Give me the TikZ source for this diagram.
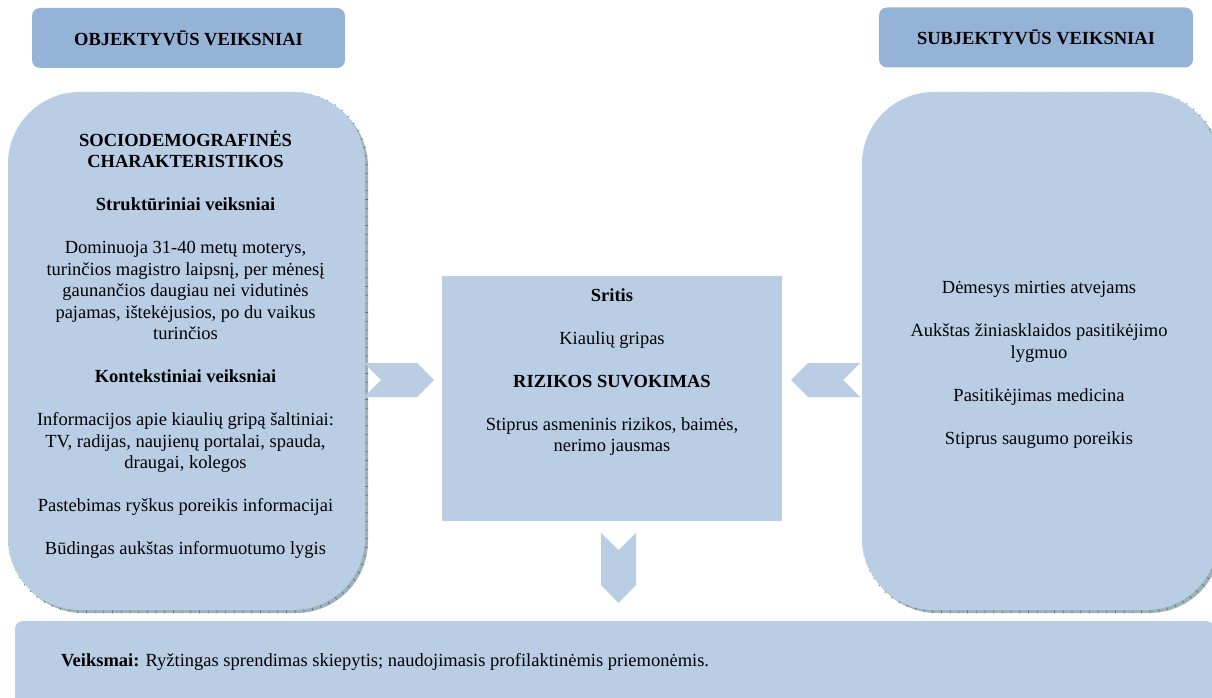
\documentclass[tikz,border=0pt]{standalone}
\usepackage{fontspec}
\setmainfont{Liberation Serif}
\usepackage{tikz}
\usetikzlibrary{positioning, shadows}
\definecolor{header}{HTML}{95B3D7}
\definecolor{panelblue}{HTML}{B9CDE5}
\definecolor{shadowteal}{HTML}{9DB3B9}
\definecolor{tickteal}{HTML}{4E7C87}

\begin{document}
\begin{tikzpicture}[x=1pt, y=-1pt, font=\fontsize{18.5}{21.5}\selectfont]
    % Define styles
    \tikzstyle{title} = [rectangle, fill=header, rounded corners=8pt,
        minimum width=313pt, minimum height=60pt, inner sep=0pt,
        font=\fontsize{18.5}{21.5}\selectfont\bfseries]
    \tikzstyle{shadowed} = [drop shadow={shadow xshift=3pt, shadow yshift=-3pt,
        fill=shadowteal, opacity=1},
        general shadow={shadow xshift=1.5pt, shadow yshift=-1.5pt, draw=tickteal,
        line width=3pt, dash pattern=on 0.7pt off 8pt, opacity=1}]
    \tikzstyle{panel} = [rectangle, fill=panelblue, rounded corners=72pt,
        minimum height=518pt, inner sep=0pt, shadowed]
    \tikzstyle{list} = [align=center, inner sep=0pt]
    \tikzstyle{chevron} = [fill=panelblue]

    \useasboundingbox (0,0) rectangle (1212,698);
    \clip (0,0) rectangle (1212,698);

    % Place nodes
    \node [title] (objective) at (188.5,38) {OBJEKTYVŪS VEIKSNIAI};
    \node [title, minimum width=314pt] (subjective) at (1036,37.5) {SUBJEKTYVŪS VEIKSNIAI};

    % Left panel
    \node [panel, minimum width=357pt] (objpanel) at (186.5,351) {};
    \node [list] (objtext) at ([xshift=-1pt, yshift=6.5pt]objpanel.center)
        {\textbf{SOCIODEMOGRAFINĖS}\\ \textbf{CHARAKTERISTIKOS}\\[21.5pt]
         \textbf{Struktūriniai veiksniai}\\[21.5pt]
         Dominuoja 31-40 metų moterys,\\ turinčios magistro laipsnį, per mėnesį\\
         gaunančios daugiau nei vidutinės\\ pajamas, ištekėjusios, po du vaikus\\
         turinčios\\[21.5pt]
         \textbf{Kontekstiniai veiksniai}\\[21.5pt]
         Informacijos apie kiaulių gripą šaltiniai:\\ TV, radijas, naujienų portalai, spauda,\\
         draugai, kolegos\\[21.5pt]
         Pastebimas ryškus poreikis informacijai\\[21.5pt]
         Būdingas aukštas informuotumo lygis};

    % Right panel
    \node [panel, minimum width=356pt] (subjpanel) at (1040,351) {};
    \node [list] (subjtext) at ([xshift=-1pt, yshift=-14pt]subjpanel.center)
        {Dėmesys mirties atvejams\\[21.5pt]
         Aukštas žiniasklaidos pasitikėjimo\\ lygmuo\\[21.5pt]
         Pasitikėjimas medicina\\[21.5pt]
         Stiprus saugumo poreikis};

    % Risk perception box
    \node [rectangle, fill=panelblue, minimum width=340pt, minimum height=245pt,
        inner sep=0pt] (risk) at (612,398.5) {};
    \node [list] (risktext) at ([yshift=26.5pt]risk.center)
        {\textbf{Sritis}\\[21.5pt]
         Kiaulių gripas\\[21.5pt]
         \textbf{RIZIKOS SUVOKIMAS}\\[21.5pt]
         Stiprus asmeninis rizikos, baimės,\\ nerimo jausmas};

    % Actions box
    \node [rectangle, fill=panelblue, rounded corners=8pt, minimum width=1199pt,
        minimum height=99pt, inner sep=0pt] (actions) at (614.5,670.5) {};
    \node [anchor=west, inner sep=0pt] (actiontext) at ([xshift=46pt, yshift=8.5pt]actions.west)
        {\textbf{Veiksmai:} Ryžtingas sprendimas skiepytis; naudojimasis profilaktinėmis priemonėmis.};

    % Block arrows
    \coordinate (arrowL) at (399,380);
    \coordinate (arrowR) at (825.5,380);
    \coordinate (arrowD) at (618.5,568);
    \fill [chevron, shift={(arrowL)}] (-35,-17) -- (18,-17) -- (35,0) -- (18,17)
        -- (-35,17) -- (-18,0) -- cycle;
    \fill [chevron, shift={(arrowR)}] (34.5,-17) -- (-17.5,-17) -- (-34.5,0) -- (-17.5,17)
        -- (34.5,17) -- (17.5,0) -- cycle;
    \fill [chevron, shift={(arrowD)}] (-17.5,-35) -- (0,-18) -- (17.5,-35) -- (17.5,17)
        -- (0,35) -- (-17.5,17) -- cycle;
\end{tikzpicture}
\end{document}
